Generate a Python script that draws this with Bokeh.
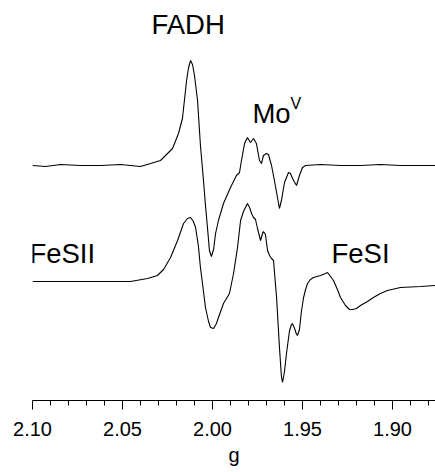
import numpy as np
from bokeh.plotting import figure
from bokeh.models import Range1d, FixedTicker, NumeralTickFormatter, ColumnDataSource
from bokeh.core.properties import value
from bokeh.embed import file_html
from bokeh.resources import INLINE

# ---- data (g value, EPR derivative intensity in arbitrary units) ----
g_top = [2.1000, 2.0928, 2.0844, 2.0733, 2.0622, 2.0511, 2.0400, 2.0344, 2.0289, 2.0261,
         2.0222, 2.0189, 2.0167, 2.0144, 2.0133, 2.0122, 2.0111, 2.0100, 2.0083, 2.0067,
         2.0050, 2.0039, 2.0028, 2.0017, 2.0006, 1.9994, 1.9983, 1.9967, 1.9939, 1.9900,
         1.9867, 1.9850, 1.9839, 1.9822, 1.9806, 1.9789, 1.9772, 1.9756, 1.9739, 1.9728,
         1.9717, 1.9700, 1.9689, 1.9672, 1.9656, 1.9639, 1.9628, 1.9617, 1.9600, 1.9578,
         1.9567, 1.9550, 1.9533, 1.9517, 1.9500, 1.9483, 1.9400, 1.9289, 1.9178, 1.9067,
         1.8956, 1.8844, 1.8761]
int_top = [0, -1, 1, 0, 0, 1, -1, 2, 5, 10,
           17, 32, 47, 85, 98, 105, 101, 90, 65, 20,
           -15, -40, -62, -85, -91, -84, -68, -55, -38, -22,
           -10, -7, 5, 22, 28, 23, 27, 22, 5, 2,
           10, 12, 11, 0, -15, -32, -43, -35, -17, -7,
           -8, -15, -20, -10, -2, 0, 1, 0, 0, 1,
           0, 0, 0]

g_bottom = [2.1000, 2.0844, 2.0622, 2.0456, 2.0361, 2.0306, 2.0272, 2.0233, 2.0194, 2.0161,
            2.0139, 2.0122, 2.0106, 2.0094, 2.0078, 2.0067, 2.0050, 2.0039, 2.0022, 2.0011,
            1.9994, 1.9978, 1.9967, 1.9939, 1.9906, 1.9883, 1.9861, 1.9844, 1.9828, 1.9817,
            1.9806, 1.9794, 1.9783, 1.9772, 1.9761, 1.9750, 1.9733, 1.9722, 1.9717, 1.9706,
            1.9694, 1.9683, 1.9672, 1.9661, 1.9644, 1.9628, 1.9617, 1.9611, 1.9600, 1.9589,
            1.9572, 1.9561, 1.9556, 1.9544, 1.9533, 1.9528, 1.9517, 1.9506, 1.9494, 1.9483,
            1.9472, 1.9456, 1.9439, 1.9400, 1.9372, 1.9361, 1.9344, 1.9328, 1.9306, 1.9289,
            1.9261, 1.9239, 1.9222, 1.9200, 1.9178, 1.9139, 1.9106, 1.9067, 1.9028, 1.8956,
            1.8844, 1.8761]
int_bottom = [0, 0, 0, 0, 3, 6, 12, 24, 41, 58,
              63, 64, 60, 54, 35, 14, -10, -26, -40, -46,
              -47, -42, -36, -22, -12, 8, 34, 61, 70, 74,
              78, 74, 68, 64, 62, 53, 41, 48, 50, 47,
              31, 26, 23, 21, -16, -66, -95, -101, -90, -72,
              -49, -43, -42, -47, -53, -54, -48, -30, -16, -8,
              -2, 2, 4, 6, 8, 9, 5, 1, -8, -16,
              -24, -28, -28, -27, -24, -20, -16, -12, -9, -6,
              -5, -4]

top_offset = 235
bottom_offset = 119

major_ticks = [2.10, 2.05, 2.00, 1.95, 1.90]
minor_ticks = [2.09, 2.08, 2.07, 2.06, 2.04, 2.03, 2.02, 2.01, 1.99, 1.98, 1.97, 1.96,
               1.94, 1.93, 1.92, 1.91, 1.89, 1.88]

label_text = ["FADH", "Mo", "V", "FeSII", "FeSI"]
label_g = [2.0339, 1.9778, 1.9567, 2.1017, 1.9339]
label_y = [376, 287, 297, 147, 147]
label_size = ["27.5px", "27.5px", "16px", "27.5px", "27.5px"]

axis_title = "g"

FONT = "Liberation Sans"

p = figure(width=435, height=472, output_backend="svg", toolbar_location=None,
           x_range=Range1d(2.10, 1.87611), y_range=Range1d(0, 392),
           y_axis_location=None, min_border_left=32, min_border_right=0,
           min_border_top=8, min_border_bottom=72)
p.outline_line_color = None
p.xgrid.visible = False
p.ygrid.visible = False
p.background_fill_color = "white"
p.border_fill_color = "white"

p.line(g_top, np.array(int_top) + top_offset, line_color="black", line_width=1.1)
p.line(g_bottom, np.array(int_bottom) + bottom_offset, line_color="black", line_width=1.1)

src = ColumnDataSource(dict(x=label_g, y=label_y, text=label_text, size=label_size))
p.text(x="x", y="y", text="text", source=src, text_font=value(FONT),
       text_font_size="size", text_baseline="alphabetic", text_align="left",
       text_color="black")

ax = p.xaxis[0]
ax.ticker = FixedTicker(ticks=major_ticks, minor_ticks=minor_ticks)
ax.formatter = NumeralTickFormatter(format="0.00")
ax.axis_line_color = "black"
ax.axis_line_width = 1
ax.major_tick_line_color = "black"
ax.minor_tick_line_color = "black"
ax.major_tick_in = 0
ax.major_tick_out = 9
ax.minor_tick_in = 0
ax.minor_tick_out = 5
ax.major_label_text_font = FONT
ax.major_label_text_font_size = "20px"
ax.major_label_text_color = "black"
ax.major_label_standoff = 12
ax.axis_label = axis_title
ax.axis_label_text_font = FONT
ax.axis_label_text_font_size = "20px"
ax.axis_label_text_font_style = "normal"
ax.axis_label_text_color = "black"
ax.axis_label_standoff = 5

open("out.html", "w").write(file_html(p, INLINE))
